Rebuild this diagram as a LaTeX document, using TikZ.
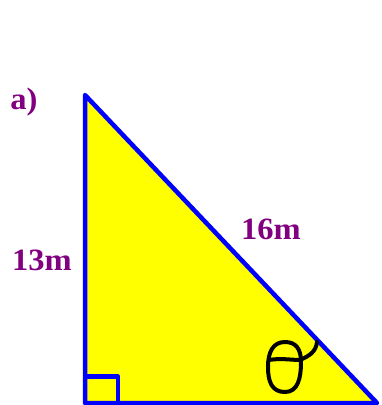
\documentclass[tikz,border=0pt]{standalone}
\usepackage{fontspec}
\setmainfont{Liberation Serif}
\begin{document}
\begin{tikzpicture}[x=1pt,y=-1pt,
  side/.style={draw=pureblue,line width=4.5pt,line join=round},
  lbl/.style={text=lblpurple,font=\fontsize{31}{34}\selectfont\bfseries,inner sep=0pt,xscale=1.05},
  hand/.style={draw=black,line width=4pt,line cap=round,line join=round}]
\definecolor{lblpurple}{RGB}{128,0,128}
\definecolor{pureyellow}{RGB}{255,255,0}
\definecolor{pureblue}{RGB}{0,0,255}
\useasboundingbox (0,0) rectangle (382,405);
\coordinate (A) at (85,95);
\coordinate (B) at (85,403);
\coordinate (C) at (377,403);
\fill[pureyellow] (A) -- (B) -- (C) -- cycle;
\draw[side] (85,376.5) -- (118,376.5) -- (118,403);
\draw[side] (A) -- (B) -- (C) -- cycle;
\node[lbl] (la) at (24,102) {a)};
\node[lbl] (l13) at (42,260) {13m};
\node[lbl] (l16) at (271,229) {16m};
% theta
\draw[hand] (285,342) .. controls (296,342) and (301,349) .. (301,362)
  .. controls (301,378) and (298,392) .. (285,392)
  .. controls (272,392) and (268,382) .. (268,367)
  .. controls (268,352) and (273,342) .. (285,342) -- cycle;
\draw[hand] (269,360) .. controls (280,358) and (292,360) .. (300,360);
\draw[hand] (300,360) .. controls (309,356) and (316,352) .. (317,342);
\end{tikzpicture}
\end{document}
